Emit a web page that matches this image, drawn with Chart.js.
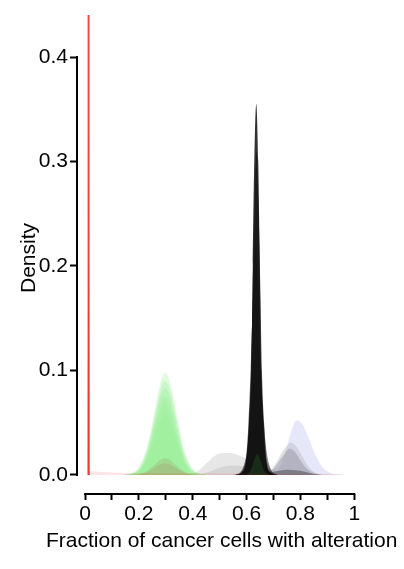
<!DOCTYPE html>
<html>
<head>
<meta charset="utf-8">
<script src="https://cdn.jsdelivr.net/npm/chart.js@4/dist/chart.umd.min.js"></script>
<style>
html,body{margin:0;padding:0;background:#fff;}
canvas{display:block;}
</style>
</head>
<body>
<canvas id="c" width="404" height="569"></canvas>
<script>
// ---- Tick labels and titles ----
const xTickValues = [0,0.1,0.2,0.3,0.4,0.5,0.6,0.7,0.8,0.9,1];
const xTickLabels = ['0','','0.2','','0.4','','0.6','','0.8','','1'];
const yTickValues = [0,0.1,0.2,0.3,0.4];
const yTickLabels = ['0.0','0.1','0.2','0.3','0.4'];
const xTitle = 'Fraction of cancer cells with alteration';
const yTitle = 'Density';

// ---- Density curves: [fraction, density] ----
const redSpike   = [[0.0085,0],[0.013,20],[0.0175,0]];
const redTail    = [[0.012,0],[0.015,0.004],[0.05,0.003],[0.15,0.002],[0.3,0.002],[0.5,0.0015],[0.95,0.001],[0.97,0]];
const darkSpike1 = [[0.0085,0],[0.013,0.9],[0.0175,0]];
const darkSpike2 = [[0.0085,0],[0.013,0.45],[0.0175,0]];
const darkSpike3 = [[0.0085,0],[0.013,0.22],[0.0175,0]];
const redHump1 = [[0.15,0],[0.20,0.0008],[0.23,0.0039],[0.25,0.008],[0.27,0.0127],[0.285,0.0153],[0.297,0.016],[0.31,0.0152],[0.325,0.0125],[0.345,0.0078],[0.37,0.003],[0.40,0.0006],[0.45,0]];
const redHump2 = [[0.15,0],[0.20,0.0006],[0.23,0.0027],[0.25,0.0055],[0.27,0.0088],[0.285,0.0105],[0.297,0.011],[0.31,0.0104],[0.325,0.0086],[0.345,0.0054],[0.37,0.0021],[0.40,0.0004],[0.45,0]];
const green1 = [[0.14,0.0001],[0.18,0.0025],[0.20,0.0075],[0.23,0.027],[0.25,0.050],[0.27,0.077],[0.285,0.0925],[0.297,0.098],[0.31,0.093],[0.325,0.079],[0.345,0.052],[0.37,0.023],[0.40,0.006],[0.43,0.001],[0.46,0]];
const green2 = [[0.14,0.0001],[0.18,0.002],[0.20,0.0065],[0.23,0.024],[0.25,0.045],[0.27,0.0705],[0.285,0.0855],[0.297,0.090],[0.31,0.0855],[0.325,0.072],[0.345,0.047],[0.37,0.020],[0.40,0.005],[0.43,0.0008],[0.46,0]];
const green3 = [[0.15,0.0001],[0.20,0.0052],[0.23,0.0215],[0.25,0.0425],[0.27,0.066],[0.285,0.079],[0.297,0.083],[0.31,0.0788],[0.325,0.0655],[0.345,0.0415],[0.37,0.0168],[0.40,0.0037],[0.45,0.0001]];
const green4 = [[0.15,0.0001],[0.20,0.004],[0.23,0.0185],[0.25,0.0375],[0.27,0.0597],[0.285,0.0717],[0.297,0.075],[0.31,0.0711],[0.325,0.0587],[0.345,0.0365],[0.37,0.0142],[0.40,0.0027],[0.45,0.0001]];
const green5 = [[0.15,0.0001],[0.20,0.0036],[0.23,0.0167],[0.25,0.034],[0.27,0.0541],[0.285,0.065],[0.297,0.068],[0.31,0.0645],[0.325,0.0532],[0.345,0.0331],[0.37,0.0129],[0.40,0.0024],[0.45,0.0001]];
const green6 = [[0.15,0.0001],[0.20,0.0031],[0.23,0.0143],[0.25,0.029],[0.27,0.0462],[0.285,0.0554],[0.297,0.058],[0.31,0.055],[0.325,0.0454],[0.345,0.0282],[0.37,0.011],[0.40,0.0021],[0.45,0.0001]];
const greenSmall = [[0.60,0],[0.615,0.004],[0.628,0.014],[0.64,0.02],[0.652,0.014],[0.665,0.004],[0.68,0]];
const black1 = [[0.570,0],[0.588,0.002],[0.599,0.01],[0.610,0.05],[0.6175,0.1],[0.623,0.2],[0.6286,0.3],[0.636,0.355],[0.6434,0.3],[0.649,0.2],[0.6545,0.1],[0.662,0.05],[0.673,0.01],[0.684,0.002],[0.70,0]];
const black2 = [[0.565,0],[0.585,0.002],[0.598,0.01],[0.609,0.05],[0.617,0.1],[0.623,0.18],[0.630,0.26],[0.637,0.31],[0.644,0.26],[0.651,0.18],[0.657,0.1],[0.665,0.05],[0.676,0.01],[0.689,0.002],[0.71,0]];
const black3 = [[0.56,0],[0.582,0.003],[0.596,0.012],[0.606,0.045],[0.615,0.1],[0.624,0.17],[0.634,0.22],[0.644,0.17],[0.653,0.1],[0.662,0.045],[0.672,0.012],[0.686,0.003],[0.71,0]];
const black4 = [[0.56,0],[0.585,0.005],[0.600,0.02],[0.612,0.05],[0.622,0.09],[0.638,0.12],[0.654,0.09],[0.664,0.05],[0.676,0.02],[0.691,0.005],[0.715,0]];
const black5 = [[0.55,0],[0.58,0.004],[0.60,0.018],[0.62,0.042],[0.635,0.05],[0.65,0.042],[0.67,0.018],[0.69,0.004],[0.72,0]];
const blackLow = [[0.66,0],[0.70,0.003],[0.75,0.005],[0.80,0.004],[0.85,0.001],[0.88,0]];
const grey1 = [[0.38,0],[0.42,0.004],[0.45,0.011],[0.48,0.018],[0.51,0.021],[0.54,0.021],[0.57,0.019],[0.60,0.016],[0.63,0.013],[0.66,0.009],[0.70,0.005],[0.74,0.001],[0.78,0]];
const grey2 = [[0.42,0],[0.46,0.003],[0.50,0.007],[0.55,0.009],[0.60,0.008],[0.65,0.005],[0.70,0.002],[0.75,0]];
const grey3 = [[0.66,0],[0.69,0.005],[0.71,0.012],[0.73,0.021],[0.75,0.028],[0.765,0.031],[0.78,0.029],[0.80,0.021],[0.82,0.012],[0.84,0.005],[0.87,0.001],[0.90,0]];
const grey4 = [[0.67,0],[0.70,0.006],[0.72,0.013],[0.74,0.02],[0.76,0.025],[0.78,0.022],[0.80,0.014],[0.82,0.007],[0.85,0.002],[0.88,0]];
const lavender1 = [[0.67,0],[0.69,0.0006],[0.71,0.0032],[0.73,0.0112],[0.75,0.027],[0.77,0.0453],[0.788,0.0525],[0.81,0.0473],[0.83,0.0358],[0.85,0.0228],[0.87,0.0122],[0.89,0.0055],[0.92,0.0012],[0.95,0.0002],[0.97,0]];

const layers = [
  {d: grey1,      c: 'rgba(211,211,211,0.55)'},
  {d: grey2,      c: 'rgba(180,180,180,0.35)'},
  {d: lavender1,  c: 'rgba(230,230,250,0.95)'},
  {d: grey3,      c: 'rgba(170,170,180,0.35)'},
  {d: grey4,      c: 'rgba(110,110,120,0.3)'},
  {d: blackLow,   c: 'rgba(0,0,0,0.3)'},
  {d: green1,     c: 'rgba(144,238,144,0.28)'},
  {d: green2,     c: 'rgba(144,238,144,0.28)'},
  {d: green3,     c: 'rgba(144,238,144,0.28)'},
  {d: green4,     c: 'rgba(144,238,144,0.28)'},
  {d: green5,     c: 'rgba(144,238,144,0.28)'},
  {d: green6,     c: 'rgba(144,238,144,0.28)'},
  {d: redHump1,   c: 'rgba(170,90,60,0.15)'},
  {d: redHump2,   c: 'rgba(170,90,60,0.15)'},
  {d: black5,     c: 'rgba(0,0,0,0.3)'},
  {d: black4,     c: 'rgba(0,0,0,0.45)'},
  {d: black3,     c: 'rgba(0,0,0,0.6)'},
  {d: black2,     c: 'rgba(0,0,0,0.7)'},
  {d: black1,     c: 'rgba(20,20,20,0.88)'},
  {d: greenSmall, c: 'rgba(40,140,40,0.22)'},
  {d: darkSpike1, c: 'rgba(80,0,0,0.12)', sharp: true},
  {d: darkSpike2, c: 'rgba(80,0,0,0.15)', sharp: true},
  {d: darkSpike3, c: 'rgba(80,0,0,0.2)', sharp: true},
  {d: redSpike,   c: 'rgba(255,30,30,0.8)', sharp: true},
  {d: redTail,    c: 'rgba(255,0,0,0.1)'}
];

const datasets = layers.map(l => ({
  data: l.d.map(p => ({x: p[0], y: p[1]})),
  backgroundColor: l.c,
  borderWidth: 0,
  pointRadius: 0,
  fill: 'origin',
  tension: l.sharp ? 0 : 0.4,
  cubicInterpolationMode: l.sharp ? 'default' : 'monotone'
})).reverse();

const FAMILY = '"Liberation Sans", Arial, Helvetica, sans-serif';
const FONT = {family: FAMILY, size: 21, lineHeight: 1.2};

// axis lines (R-style, spanning first to last tick) and axis titles
const axisDecor = {
  id: 'axisDecor',
  afterDraw(chart) {
    const {ctx, chartArea, scales} = chart;
    const xs = scales.x, ys = scales.y;
    ctx.save();
    ctx.strokeStyle = '#000';
    ctx.lineWidth = 2;
    ctx.beginPath();
    const yx = chartArea.left;
    ctx.moveTo(yx, ys.getPixelForValue(yTickValues[yTickValues.length - 1]) - 1);
    ctx.lineTo(yx, ys.getPixelForValue(yTickValues[0]) + 1);
    const xy = chartArea.bottom;
    ctx.moveTo(xs.getPixelForValue(xTickValues[0]) - 1, xy);
    ctx.lineTo(xs.getPixelForValue(xTickValues[xTickValues.length - 1]) + 1, xy);
    ctx.stroke();

    ctx.fillStyle = '#000';
    ctx.font = '21px ' + FAMILY;
    ctx.textAlign = 'center';
    ctx.textBaseline = 'alphabetic';
    const xMid = (xs.getPixelForValue(0) + xs.getPixelForValue(1)) / 2 + 2;
    ctx.fillText(xTitle, xMid, 547);
    ctx.translate(35, (ys.getPixelForValue(0) + ys.getPixelForValue(0.4)) / 2 - 8);
    ctx.rotate(-Math.PI / 2);
    ctx.fillText(yTitle, 0, 0);
    ctx.restore();
  }
};

new Chart(document.getElementById('c'), {
  type: 'line',
  data: {datasets},
  plugins: [axisDecor],
  options: {
    responsive: false,
    animation: false,
    devicePixelRatio: 1,
    layout: {padding: {left: 0, top: 15, right: 39, bottom: 0}},
    plugins: {legend: {display: false}, tooltip: {enabled: false}},
    elements: {line: {borderWidth: 0}},
    scales: {
      x: {
        type: 'linear',
        min: -0.03,
        max: 1.04,
        afterBuildTicks: s => { s.ticks = xTickValues.map(v => ({value: v})); },
        afterFit: s => { s.height = 75; },
        ticks: {
          autoSkip: false, maxRotation: 0, minRotation: 0,
          padding: 1.5, color: '#000', font: FONT,
          callback: (v, i) => xTickLabels[i]
        },
        grid: {drawOnChartArea: false, drawTicks: true, tickLength: 6, tickWidth: 2, tickColor: '#000', color: '#000'},
        border: {display: false},
        title: {display: false}
      },
      y: {
        type: 'linear',
        min: -0.0182,
        max: 0.4402,
        afterBuildTicks: s => { s.ticks = yTickValues.map(v => ({value: v})); },
        afterFit: s => { s.width = 77; },
        ticks: {
          autoSkip: false, padding: 2, color: '#000', font: FONT,
          callback: (v, i) => yTickLabels[i]
        },
        grid: {drawOnChartArea: false, drawTicks: true, tickLength: 7, tickWidth: 2, tickColor: '#000', color: '#000'},
        border: {display: false},
        title: {display: false}
      }
    }
  }
});
</script>
</body>
</html>
